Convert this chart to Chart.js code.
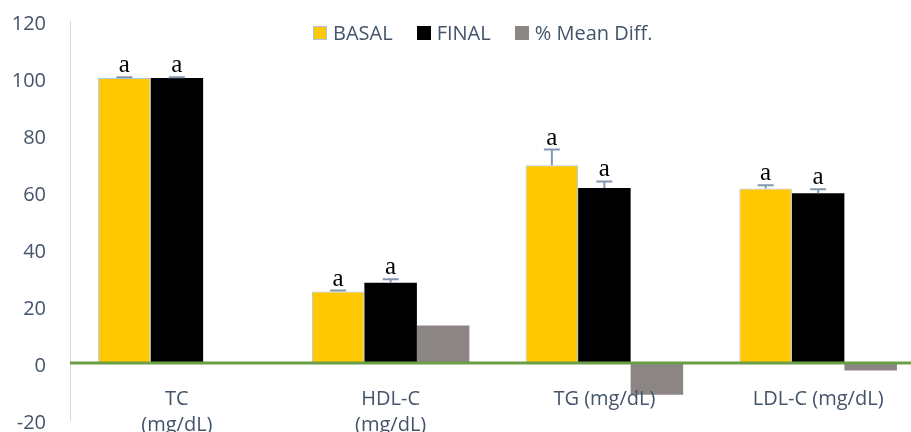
<!DOCTYPE html>
<html>
<head>
<meta charset="utf-8">
<script src="https://cdn.jsdelivr.net/npm/chart.js@4/dist/chart.umd.min.js"></script>
<style>
  html, body { margin: 0; padding: 0; background: #fff; overflow: hidden; }
  #wrap { position: relative; width: 911px; height: 432px; overflow: hidden; }
  #chart { position: absolute; left: 0; top: 0; }
  #legend { position: absolute; left: 313px; top: 19px; display: flex; align-items: center;
            font-family: "Open Sans", sans-serif; font-size: 20px; color: #44546A; white-space: nowrap; }
  .item { display: flex; align-items: center; margin-right: 24px; }
  .box { width: 14px; height: 14px; margin-right: 6px; box-sizing: border-box; }
</style>
</head>
<body>
<div id="wrap">
  <canvas id="chart" width="925" height="432"></canvas>
  <div id="legend"></div>
</div>
<script>
// Lipid profile, baseline vs. end of study (mg/dL), with % change of the mean
const categories = [['TC', '(mg/dL)'], ['HDL-C', '(mg/dL)'], 'TG (mg/dL)', 'LDL-C (mg/dL)'];
const seriesNames = ['BASAL', 'FINAL', '% Mean Diff.'];
const basal = [100, 25.1, 69.4, 61.2];
const final = [100, 28.2, 61.4, 59.6];
const meanDiff = [0, 13.2, -11.1, -2.6];
const basalErr = [0.3, 0.3, 5.5, 1.2];
const finalErr = [0.3, 1.2, 2.3, 1.4];
const basalLetters = ['a', 'a', 'a', 'a'];
const finalLetters = ['a', 'a', 'a', 'a'];
const yMin = -20, yMax = 120, yStep = 20;

const colors = ['#FFC800', '#000000', '#8B8584'];
const borders = ['#A9C6E8', '#000000', '#8B8584'];

// green zero line drawn over the bars
const zeroLine = {
  id: 'zeroLine',
  afterDatasetsDraw(chart) {
    const { ctx, chartArea } = chart;
    const y0 = chart.scales.y.getPixelForValue(0);
    ctx.save();
    ctx.strokeStyle = '#6C9F45';
    ctx.lineWidth = 3;
    ctx.beginPath();
    ctx.moveTo(chartArea.left, y0);
    ctx.lineTo(chartArea.right, y0);
    ctx.stroke();
    ctx.restore();
  }
};

// upper error whiskers and significance letters
const errorBars = {
  id: 'errorBars',
  afterDatasetsDraw(chart) {
    const { ctx } = chart;
    const yScale = chart.scales.y;
    const sets = [[0, basal, basalErr, basalLetters], [1, final, finalErr, finalLetters]];
    ctx.save();
    sets.forEach(([di, vals, errs, letters]) => {
      const meta = chart.getDatasetMeta(di);
      meta.data.forEach((bar, i) => {
        const x = bar.x;
        const top = yScale.getPixelForValue(vals[i] + errs[i]);
        ctx.strokeStyle = '#8497B0';
        ctx.lineWidth = 2;
        ctx.beginPath();
        ctx.moveTo(x, bar.y);
        ctx.lineTo(x, top);
        ctx.moveTo(x - 8, top);
        ctx.lineTo(x + 8, top);
        ctx.stroke();
        ctx.fillStyle = '#000';
        ctx.font = '25px "Liberation Serif"';
        ctx.textAlign = 'center';
        ctx.textBaseline = 'alphabetic';
        ctx.fillText(letters[i], x, top - 5);
      });
    });
    ctx.restore();
  }
};

const seriesData = [basal, final, meanDiff];
const chart = new Chart(document.getElementById('chart'), {
  type: 'bar',
  data: {
    labels: categories,
    datasets: seriesData.map((d, k) => ({
      label: seriesNames[k],
      data: d,
      backgroundColor: colors[k],
      borderColor: borders[k],
      borderWidth: k === 0 ? 1 : 0,
      categoryPercentage: 0.737,
      barPercentage: 1
    }))
  },
  options: {
    responsive: false,
    animation: false,
    layout: { padding: { top: 21, bottom: 12, left: 0, right: 0 } },
    plugins: { legend: { display: false }, tooltip: { enabled: false } },
    scales: {
      x: {
        position: { y: 0 },
        afterFit(scale) { scale.height = 0; scale.paddingLeft = 0; scale.paddingRight = 0; },
        grid: { display: false, drawTicks: false },
        border: { display: false },
        ticks: {
          z: 1,
          padding: 23,
          color: '#44546A',
          font: { family: 'Open Sans', size: 20, lineHeight: 1.3 },
          maxRotation: 0,
          autoSkip: false
        }
      },
      y: {
        min: yMin,
        max: yMax,
        afterFit(scale) { scale.width = 70; scale.paddingTop = 0; scale.paddingBottom = 0; },
        grid: { display: false, drawTicks: false },
        border: { display: true, color: '#D9D9D9', width: 1 },
        ticks: {
          stepSize: yStep,
          padding: 24,
          labelOffset: 3,
          color: '#44546A',
          font: { family: 'Open Sans', size: 20 }
        }
      }
    }
  },
  plugins: [zeroLine, errorBars]
});

// legend built from the datasets
const legend = document.getElementById('legend');
chart.data.datasets.forEach((ds) => {
  const item = document.createElement('div');
  item.className = 'item';
  const box = document.createElement('span');
  box.className = 'box';
  box.style.background = ds.backgroundColor;
  if (ds.borderWidth) box.style.border = '1px solid ' + ds.borderColor;
  const txt = document.createElement('span');
  txt.textContent = ds.label;
  item.appendChild(box);
  item.appendChild(txt);
  legend.appendChild(item);
});
</script>
</body>
</html>
